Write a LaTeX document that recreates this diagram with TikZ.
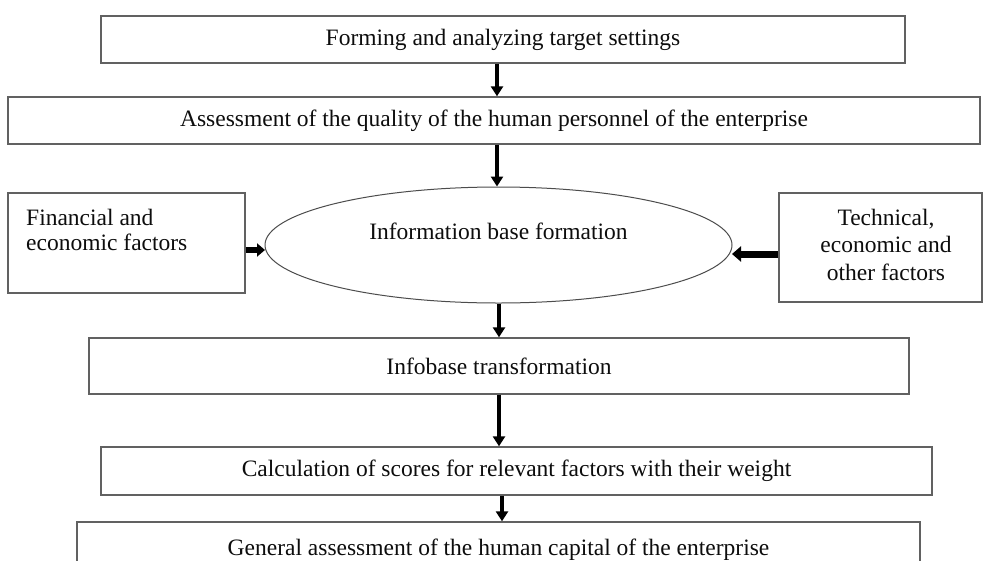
\documentclass[tikz,border=0pt]{standalone}
\usepackage{fontspec}
\setmainfont{Liberation Serif}
\usetikzlibrary{arrows.meta,shapes.geometric}
\begin{document}
\begin{tikzpicture}[x=1pt,y=-1pt,
  box/.style={draw=black!62,line width=1.4pt,inner sep=0pt},
  txt/.style={font=\fontsize{23.5}{25.5}\selectfont,text=black!95,inner sep=0pt},
  arr/.style={draw=black,line width=4.5pt,-{Triangle[length=10pt,width=12pt]}},
]
\path[use as bounding box,clip] (0,0) rectangle (983,560);
\fill[white] (0,0) rectangle (983,560);

% boxes
\node[box,txt,minimum width=804pt,minimum height=47pt] (b1) at (503,39.5) {Forming and analyzing target settings};
\node[box,txt,minimum width=972pt,minimum height=47pt] (b2) at (494,120.5) {Assessment of the quality of the human personnel of the enterprise};
\node[box,minimum width=237pt,minimum height=100pt] (lb) at (126.5,243) {};
\node[txt,align=left,anchor=west] (lt) at (26,230) {Financial and\\economic factors};
\node[box,minimum width=203pt,minimum height=109pt] (rb) at (880.5,247.5) {};
\node[txt,align=center,font=\fontsize{23.5}{27.5}\selectfont] (rt) at (886,244.5) {Technical,\\economic and\\other factors};
\node[draw=black!70,line width=1pt,ellipse,minimum width=467pt,minimum height=116pt,inner sep=0pt] (el) at (498.5,245) {};
\node[txt] (et) at (498.5,231) {Information base formation};
\node[box,txt,minimum width=820pt,minimum height=56pt] (b4) at (499,366) {Infobase transformation};
\node[box,txt,minimum width=831pt,minimum height=48pt] (b5) at (516.5,471) {Calculation of scores for relevant factors with their weight};
\node[box,txt,minimum width=843pt,minimum height=56pt] (b6) at (498.5,550) {General assessment of the human capital of the enterprise};

% arrow columns
\coordinate (x1) at (497,0);
\coordinate (x3) at (499,0);
\coordinate (x5) at (502,0);
\coordinate (yl) at (0,250);
\coordinate (yr) at (0,254);

\draw[arr] (b1.south -| x1) -- (b2.north -| x1);
\draw[arr] (b2.south -| x1) -- (el.north -| x1);
\draw[arr] (el.south -| x3) -- (b4.north -| x3);
\draw[arr] (b4.south -| x3) -- (b5.north -| x3);
\draw[arr] (b5.south -| x5) -- (b6.north -| x5);

\draw[draw=black,line width=6pt,-{Triangle[length=8pt,width=13pt]}] (lb.east |- yl) -- ([xshift=0.5pt]el.west |- yl);
\draw[draw=black,line width=7pt,-{Triangle[length=9pt,width=15pt]}] (rb.west |- yr) -- ([xshift=-0.5pt]el.east |- yr);
\end{tikzpicture}
\end{document}
